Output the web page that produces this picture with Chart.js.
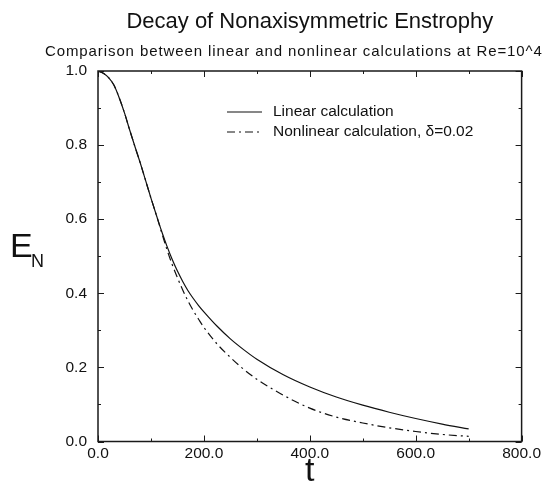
<!DOCTYPE html>
<html>
<head>
<meta charset="utf-8">
<title>Decay of Nonaxisymmetric Enstrophy</title>
<script src="https://cdn.jsdelivr.net/npm/chart.js@4/dist/chart.umd.min.js"></script>
<style>
    html, body { margin: 0; padding: 0; background: #ffffff; }
    #wrap { width: 544px; height: 483px; }
</style>
</head>
<body>
<div id="wrap"><canvas id="enstrophyChart" width="544" height="483"></canvas></div>
<script>
// ===================================
// DATA
// ===================================
const TIME = [0, 10, 20, 30, 40, 50, 60, 70, 80, 90, 100, 110, 120, 130, 140, 150,
              160, 170, 180, 190, 200, 225, 250, 275, 300, 350, 400, 450, 500, 550, 600, 650, 700];

// linear calculation
const LINEAR = [1.000, 0.994, 0.982, 0.962, 0.928, 0.887, 0.840, 0.795, 0.751, 0.704, 0.657,
                0.612, 0.568, 0.528, 0.492, 0.460, 0.432, 0.407, 0.386, 0.367, 0.350,
                0.311, 0.277, 0.248, 0.222, 0.180, 0.147, 0.120, 0.098, 0.079, 0.062, 0.047, 0.034];

// nonlinear calculation, delta = 0.02
const NONLINEAR = [1.000, 0.994, 0.982, 0.962, 0.928, 0.887, 0.840, 0.795, 0.751, 0.704, 0.657,
                   0.612, 0.565, 0.519, 0.478, 0.442, 0.409, 0.379, 0.353, 0.330, 0.308,
                   0.263, 0.227, 0.195, 0.168, 0.125, 0.090, 0.066, 0.050, 0.037, 0.027, 0.019, 0.014];

const SERIES_LABELS = ['Linear calculation', 'Nonlinear calculation, \u03b4=0.02'];

const X_MIN = 0, X_MAX = 800, X_STEP = 200, X_MINOR = 100;
const Y_MIN = 0, Y_MAX = 1, Y_STEP = 0.2, Y_MINOR = 0.1;

const TITLE = 'Decay of Nonaxisymmetric Enstrophy';
const SUBTITLE = 'Comparison between linear and nonlinear calculations at Re=10^4';

const FONT = '"Liberation Sans", Arial, Helvetica, sans-serif';

function toPoints(values) {
    return TIME.map((t, i) => ({ x: t, y: values[i] }));
}

// ===================================
// Plugin: frame, inward ticks, titles,
// E_N label and the little legend
// ===================================
const paperDecor = {
    id: 'paperDecor',
    afterDraw(chart) {
        const ctx = chart.ctx;
        const a = chart.chartArea;
        const xs = chart.scales.x;
        const ys = chart.scales.y;

        ctx.save();

        // box around the plot
        ctx.strokeStyle = '#1a1a1a';
        ctx.lineWidth = 1.5;
        ctx.strokeRect(a.left, a.top, a.right - a.left, a.bottom - a.top);

        // inward ticks on all four sides
        ctx.lineWidth = 1;
        ctx.beginPath();
        for (let v = X_MIN; v <= X_MAX + 1e-6; v += X_MINOR) {
            const px = Math.round(xs.getPixelForValue(v)) + 0.5;
            const len = (Math.abs(v % X_STEP) < 1e-6) ? 6 : 3;
            ctx.moveTo(px, a.bottom); ctx.lineTo(px, a.bottom - len);
            ctx.moveTo(px, a.top); ctx.lineTo(px, a.top + len);
        }
        for (let k = 0; k <= Math.round((Y_MAX - Y_MIN) / Y_MINOR); k++) {
            const v = Y_MIN + k * Y_MINOR;
            const py = Math.round(ys.getPixelForValue(v)) + 0.5;
            const len = (k % 2 === 0) ? 6 : 3;
            ctx.moveTo(a.left, py); ctx.lineTo(a.left + len, py);
            ctx.moveTo(a.right, py); ctx.lineTo(a.right - len, py);
        }
        ctx.stroke();

        // titles
        ctx.fillStyle = '#111';
        ctx.textBaseline = 'alphabetic';
        ctx.textAlign = 'center';
        ctx.font = '22px ' + FONT;
        ctx.fillText(TITLE, (a.left + a.right) / 2, 28);

        ctx.textAlign = 'left';
        ctx.font = '15px ' + FONT;
        ctx.letterSpacing = '0.9px';
        ctx.fillText(SUBTITLE, 45, 56);
        ctx.letterSpacing = '0px';

        // y label: E with subscript N
        ctx.font = '34px ' + FONT;
        ctx.fillText('E', 10, 257);
        ctx.font = '18px ' + FONT;
        ctx.fillText('N', 31, 267);

        // legend inside the plot
        ctx.font = '15.5px ' + FONT;
        ctx.textBaseline = 'middle';
        chart.data.datasets.forEach((ds, i) => {
            const y = 112 + i * 20;
            ctx.strokeStyle = ds.borderColor;
            ctx.lineWidth = ds.borderWidth;
            ctx.setLineDash(ds.borderDash || []);
            ctx.beginPath();
            ctx.moveTo(227, y);
            ctx.lineTo(262, y);
            ctx.stroke();
            ctx.setLineDash([]);
            ctx.fillText(ds.label, 273, y);
        });

        ctx.restore();
    }
};

// ===================================
// Chart
// ===================================
const ctx = document.getElementById('enstrophyChart').getContext('2d');

new Chart(ctx, {
    type: 'line',
    data: {
        datasets: [{
            label: SERIES_LABELS[0],
            data: toPoints(LINEAR),
            borderColor: '#111111',
            borderWidth: 1.2,
            pointRadius: 0,
            cubicInterpolationMode: 'monotone',
            fill: false
        }, {
            label: SERIES_LABELS[1],
            data: toPoints(NONLINEAR),
            borderColor: '#111111',
            borderWidth: 1.2,
            borderDash: [8, 4, 2, 4],
            pointRadius: 0,
            cubicInterpolationMode: 'monotone',
            fill: false
        }]
    },
    options: {
        responsive: false,
        animation: false,
        events: [],
        layout: {
            padding: { top: 71, right: 20, left: 0, bottom: 0 }
        },
        plugins: {
            legend: { display: false },
            title: { display: false },
            tooltip: { enabled: false }
        },
        scales: {
            x: {
                type: 'linear',
                min: X_MIN,
                max: X_MAX,
                afterFit: (scale) => { scale.height = 41.5; },
                border: { display: false },
                grid: { display: false, drawTicks: false },
                ticks: {
                    stepSize: X_STEP,
                    padding: 3,
                    color: '#111',
                    font: { size: 15.5, family: FONT },
                    callback: (v) => Number(v).toFixed(1)
                },
                title: {
                    display: true,
                    text: 't',
                    color: '#111',
                    font: { size: 34, family: FONT, lineHeight: 1 },
                    padding: { top: 0, bottom: -6 }
                }
            },
            y: {
                min: Y_MIN,
                max: Y_MAX,
                afterFit: (scale) => { scale.width = 98; },
                border: { display: false },
                grid: { display: false, drawTicks: false },
                ticks: {
                    stepSize: Y_STEP,
                    padding: 11,
                    color: '#111',
                    font: { size: 15.5, family: FONT },
                    callback: (v) => Number(v).toFixed(1)
                }
            }
        }
    },
    plugins: [paperDecor]
});
</script>
</body>
</html>
